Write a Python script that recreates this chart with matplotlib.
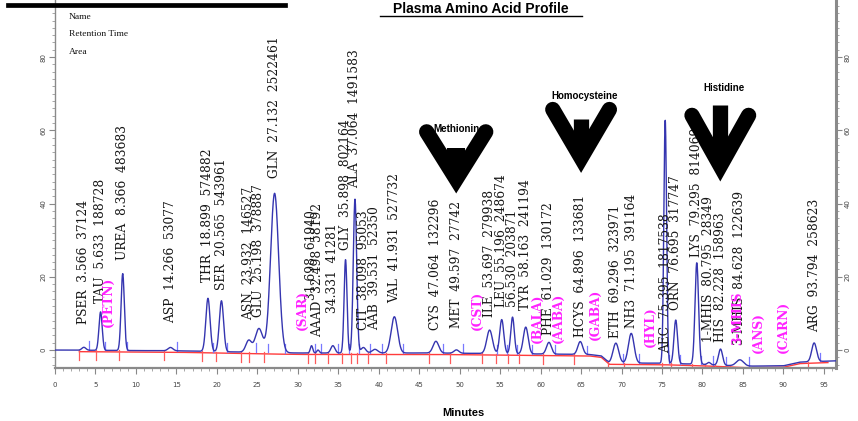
import matplotlib
matplotlib.use("Agg")
import matplotlib.pyplot as plt
import numpy as np
from matplotlib.ticker import MultipleLocator

# peak table: name, retention time, area (from the chromatogram labels)
peak_names = ["PSER", "TAU", "UREA", "ASP", "THR", "SER", "ASN", "GLU", "GLN", "", "AAAD", "",
              "GLY", "ALA", "CIT", "AAB", "VAL", "CYS", "MET", "ILE", "LEU", "", "TYR", "PHE",
              "HCYS", "ETH", "NH3", "AEC", "ORN", "LYS", "1-MHIS", "HIS", "3-MHIS", "ARG"]
peak_rt = [3.566, 5.633, 8.366, 14.266, 18.899, 20.565, 23.932, 25.198, 27.132, 31.698, 32.498, 34.331,
           35.898, 37.064, 38.098, 39.531, 41.931, 47.064, 49.597, 53.697, 55.196, 56.530, 58.163, 61.029,
           64.896, 69.296, 71.195, 75.395, 76.695, 79.295, 80.795, 82.228, 84.628, 93.794]
peak_area = [37124, 188728, 483683, 53077, 574882, 543961, 146527, 378887, 2522461, 61940, 58192, 41281,
             802164, 1491583, 95053, 52350, 527732, 132296, 27742, 279938, 248674, 203871, 241194, 130172,
             133681, 323971, 391164, 1817538, 317747, 814069, 28349, 158963, 122639, 258623]
# estimated peak heights above baseline and peak widths (minutes)
peak_height = [0.8, 10.5, 21.0, 0.9, 14.5, 13.9, 3.2, 6.5, 43.5, 2.0, 0.8, 2.0,
               25.5, 42.0, 1.5, 1.0, 9.9, 3.2, 0.9, 6.4, 9.3, 10.0, 7.3, 3.2,
               3.5, 5.4, 8.1, 66.4, 11.9, 27.7, 0.6, 4.4, 1.7, 5.1]
peak_width = [0.25, 0.2, 0.2, 0.3, 0.26, 0.26, 0.35, 0.45, 0.5, 0.15, 0.15, 0.25,
              0.18, 0.21, 0.3, 0.35, 0.4, 0.35, 0.3, 0.35, 0.25, 0.22, 0.3, 0.3,
              0.3, 0.35, 0.35, 0.17, 0.22, 0.22, 0.2, 0.25, 0.45, 0.3]
# where each label starts (bottom of rotated text)
label_bottom = [7.1, 12.8, 24.6, 7.4, 18.6, 16.4, 8.2, 9.0, 47.0, 13.7, 3.6, 10.1,
                27.3, 44.3, 5.5, 5.5, 12.8, 5.5, 6.0, 9.0, 11.7, 11.7, 10.9, 4.1,
                3.6, 3.3, 6.0, -0.8, 10.9, 25.4, 2.2, 2.2, 1.4, 4.9]

# compounds not found (magenta)
missing_names = ["(PETN)", "(SAR)", "(CST)", "(BALA)", "(AABA)", "(GABA)", "(HYL)", "3-MHIS", "(ANS)", "(CARN)"]
missing_x = [6.55, 30.5, 52.2, 59.6, 62.2, 66.7, 73.5, 84.4, 86.9, 90.0]
missing_y = [6.3, 5.5, 5.5, 1.9, 1.9, 2.7, 0.8, 1.4, -0.8, -0.8]

# baseline drift
base_t = [0, 15, 22, 30, 47, 66, 67.5, 68.5, 75, 80, 85, 90, 92, 97]
base_v = [0.0, -0.2, -0.5, -0.8, -0.8, -1.2, -1.6, -3.5, -3.6, -3.9, -4.4, -4.3, -3.3, -2.9]

# highlighted compounds
callouts = ["Methionine", "Homocysteine", "Histidine"]
callout_rt = [49.57, 65.0, 82.2]

fig = plt.figure(figsize=(8.58, 4.21), dpi=100)
ax = fig.add_axes([0.0641, 0.1259, 0.9103, 0.8741])

t = np.linspace(0, 96.5, 5000)
base = np.interp(t, base_t, base_v)
sig = base.copy()
for rt, h, w in zip(peak_rt, peak_height, peak_width):
    sig += h * np.exp(-0.5 * ((t - rt) / w) ** 2)

# integration baseline + start/end markers
m = (t > 3.0) & (t < 95.5)
ax.plot(t[m], base[m] - 0.4, color="#ff3b3b", lw=1.0, zorder=2)
for rt, w in zip(peak_rt, peak_width):
    b0 = np.interp(rt - 2.6 * w, base_t, base_v)
    b1 = np.interp(rt + 2.6 * w, base_t, base_v)
    ax.plot([rt - 2.6 * w] * 2, [b0 - 2.6, b0], color="#ff5a5a", lw=0.9, zorder=2)
    ax.plot([rt + 2.6 * w] * 2, [b1, b1 + 2.4], color="#7878ff", lw=0.9, zorder=2)

ax.plot(t, sig, color="#3535b0", lw=1.0, zorder=3)

for name, rt, area, yb in zip(peak_names, peak_rt, peak_area, label_bottom):
    txt = f"{name}  {rt:.3f}  {area}" if name else f"{rt:.3f}  {area}"
    ax.text(rt, yb, txt, rotation=90, ha="center", va="bottom", fontsize=8.8,
            family="DejaVu Serif", color="#161616", zorder=4)
for name, x, yb in zip(missing_names, missing_x, missing_y):
    ax.text(x, yb, name, rotation=90, ha="center", va="bottom", fontsize=8.8,
            family="DejaVu Serif", weight="bold", color="#ff22ff", zorder=4)

# big down arrows over the compounds of interest
arm_dx = [3.65, 3.5, 3.5]
tip_y = [46.7, 52.5, 50.3]
top_y = [59.6, 65.7, 64.1]
stem_y = [(55.2, 47.5), (63.1, 53.5), (66.9, 52.0)]
stem_w = [13, 11, 11]
text_y = [60.3, 69.4, 71.6]
for name, rt, dx, ty, tp, sy, sw, tx in zip(callouts, callout_rt, arm_dx, tip_y, top_y,
                                             stem_y, stem_w, text_y):
    ax.text(rt + 0.4, tx, name, ha="center", va="center", fontsize=7, weight="bold",
            family="Liberation Sans", zorder=5, clip_on=False)
    ax.plot([rt - dx, rt, rt + dx], [tp, ty, tp], color="black", lw=11,
            solid_capstyle="round", solid_joinstyle="miter", zorder=6)
    ax.plot([rt, rt], sy, color="black", lw=sw, solid_capstyle="butt", zorder=6)

ax.set_xlim(0, 96.5)
ax.set_ylim(-4.9, 95.6)
ax.xaxis.set_major_locator(MultipleLocator(5))
ax.xaxis.set_minor_locator(MultipleLocator(1))
ax.yaxis.set_major_locator(MultipleLocator(20))
ax.yaxis.set_minor_locator(MultipleLocator(2))
ax.yaxis.set_ticks_position("both")
ax.tick_params(axis="both", which="major", length=4, width=0.8, color="#888888",
               labelsize=5, labelcolor="#444444")
ax.tick_params(axis="both", which="minor", length=2, width=0.6, color="#999999")
ax.tick_params(axis="y", labelleft=True, labelright=True, labelrotation=90, pad=2)
ax.tick_params(axis="x", pad=6)
for lab in ax.get_yticklabels():
    lab.set_va("center")
ax.spines["top"].set_visible(False)
for s in ["left", "bottom", "right"]:
    ax.spines[s].set_color("#8a8a8a")
ax.spines["bottom"].set_linewidth(1.6)
ax.spines["right"].set_linewidth(2.2)
ax.spines["left"].set_linewidth(1.0)

# header text
for i, s in enumerate(["Name", "Retention Time", "Area"]):
    fig.text(69 / 858, 1 - (17 + 17.5 * i) / 421, s, fontsize=6.8, family="Liberation Serif",
             va="center", ha="left", color="#111111")
fig.text(0.5606, 0.978, "Plasma Amino Acid Profile", ha="center", va="center",
         fontsize=10, weight="bold", family="Liberation Sans")
fig.add_artist(plt.Line2D([380 / 858, 582 / 858], [0.961, 0.961], color="black", lw=1.0))
fig.add_artist(plt.Line2D([8 / 858, 285 / 858], [0.989, 0.989], color="black", lw=3.4))
fig.text(0.54, 0.019, "Minutes", ha="center", va="center", fontsize=8, weight="bold",
         family="Liberation Sans")

fig.savefig("out.png", dpi=100)
